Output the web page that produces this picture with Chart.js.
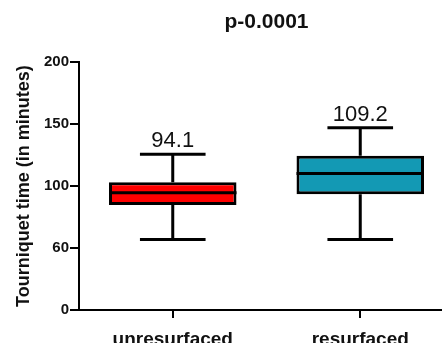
<!DOCTYPE html>
<html>
<head>
<meta charset="utf-8">
<script src="https://cdn.jsdelivr.net/npm/chart.js@4.4.0/dist/chart.umd.min.js"></script>
<style>
html, body { margin: 0; padding: 0; background: #fff; overflow: hidden; }
#wrap { position: relative; width: 454px; height: 352px; }
</style>
</head>
<body>
<div id="wrap"><canvas id="chart1"></canvas></div>
<script>
// valores
const categories = ['unresurfaced', 'resurfaced']
const mins = [57, 57]
const q1s = [84.7, 93.5]
const medians = [94.6, 110.2]
const q3s = [103.2, 124.4]
const maxs = [125.8, 147]
const means = [94.1, 109.2]
const yTickLabels = ['0', '60', '100', '150', '200']
const boxColors = ['#ff0000', '#1399b4']

Chart.defaults.font.family = 'Arial, "Liberation Sans", sans-serif'
Chart.defaults.color = '#000'

// bigotes, mediana y etiquetas de la media
const boxPlugin = {
    id: 'boxExtras',
    afterDatasetsDraw(chart) {
        const ctx = chart.ctx
        const x = chart.scales.x
        const y = chart.scales.y
        const bars = chart.getDatasetMeta(0).data
        const capHalf = x.width / categories.length * 0.175
        ctx.save()
        ctx.strokeStyle = '#000'
        ctx.lineWidth = 3
        categories.forEach((c, i) => {
            const cx = x.getPixelForValue(i)
            const half = bars[i].width / 2
            ctx.beginPath()
            ctx.moveTo(cx, y.getPixelForValue(q3s[i]))
            ctx.lineTo(cx, y.getPixelForValue(maxs[i]))
            ctx.moveTo(cx - capHalf, y.getPixelForValue(maxs[i]))
            ctx.lineTo(cx + capHalf, y.getPixelForValue(maxs[i]))
            ctx.moveTo(cx, y.getPixelForValue(q1s[i]))
            ctx.lineTo(cx, y.getPixelForValue(mins[i]))
            ctx.moveTo(cx - capHalf, y.getPixelForValue(mins[i]))
            ctx.lineTo(cx + capHalf, y.getPixelForValue(mins[i]))
            ctx.moveTo(cx - half, y.getPixelForValue(medians[i]))
            ctx.lineTo(cx + half, y.getPixelForValue(medians[i]))
            ctx.stroke()

            ctx.fillStyle = '#111'
            ctx.font = '22px Arial, "Liberation Sans", sans-serif'
            ctx.textAlign = 'center'
            ctx.textBaseline = 'alphabetic'
            ctx.fillText(means[i].toFixed(1), cx, y.getPixelForValue(maxs[i]) - 7)
        })
        ctx.restore()
    }
}

const data = {
    labels: categories,
    datasets: [{
        data: categories.map((c, i) => [q1s[i], q3s[i]]),
        backgroundColor: boxColors,
        borderColor: '#000',
        borderWidth: 3,
        borderSkipped: false,
        barPercentage: 0.68,
        categoryPercentage: 1
    }]
}

const options = {
    responsive: true,
    maintainAspectRatio: false,
    animation: false,
    layout: { padding: 0 },
    plugins: {
        legend: { display: false },
        tooltip: { enabled: false },
        title: {
            display: true,
            text: 'p-0.0001',
            fullSize: false,
            color: '#111',
            font: { size: 21, weight: 'bold' },
            padding: { top: 10, bottom: 27 }
        }
    },
    scales: {
        x: {
            grid: { offset: false, drawOnChartArea: false, tickLength: 8, color: '#000', lineWidth: 2 },
            border: { color: '#000', width: 2 },
            ticks: { color: '#111', font: { size: 19, weight: 'bold' }, padding: 10 },
            afterFit: s => { s.height = 42 }
        },
        y: {
            min: 0,
            max: 200,
            ticks: {
                stepSize: 50,
                callback: (v, i) => yTickLabels[i],
                color: '#111',
                font: { size: 15, weight: 'bold' },
                padding: 1
            },
            grid: { drawOnChartArea: false, tickLength: 9, color: '#000', lineWidth: 2 },
            border: { color: '#000', width: 2 },
            title: {
                display: true,
                text: 'Tourniquet time (in minutes)',
                color: '#111',
                font: { size: 18, weight: 'bold' },
                padding: { top: 13, bottom: 0 }
            },
            afterFit: s => { s.width = 79 }
        }
    }
}

new Chart('chart1', { type: 'bar', data, options, plugins: [boxPlugin] })
</script>
</body>
</html>
